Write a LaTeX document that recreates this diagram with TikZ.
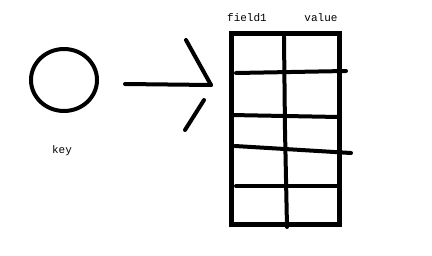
\documentclass[tikz,border=0pt]{standalone}
\usepackage{fontspec}
\setmonofont{Liberation Mono}
\usepackage{tikz}
\usetikzlibrary{positioning}
\tikzset{
  pen/.style={line width=4pt,line cap=round,line join=round},
  tag/.style={font=\ttfamily\fontsize{11}{12}\selectfont,inner sep=0pt}
}

\begin{document}
\begin{tikzpicture}[x=1pt,y=-1pt]
  \useasboundingbox[fill=white] (0,0) rectangle (432,255);
  % the key
  \draw[pen] (64,80) ellipse [x radius=33,y radius=31];
  \node[tag] (key) at (62,151) {key};
  % arrow
  \coordinate (tail) at (125,84);
  \coordinate (tip) at (211,85);
  \draw[pen] (tail) -- (tip);
  \draw[pen] (186,40) -- (tip);
  \draw[pen] (204,100) -- (185,130);
  % the hash table
  \draw[line width=5pt] (231,33) rectangle (339,224);
  \node[tag] (field) at (247,18) {field1};
  \node[tag] (value) at (321,18) {value};
  \draw[pen] (284,37) -- (285,130) -- (287,227);
  \foreach \ya/\xb/\yb in {73/346/71, 186/339/186}
    \draw[pen] (236,\ya) -- (\xb,\yb);
  \draw[pen] (231,115) -- (339,117);
  \draw[pen] (235,146) -- (351,153);
\end{tikzpicture}
\end{document}
